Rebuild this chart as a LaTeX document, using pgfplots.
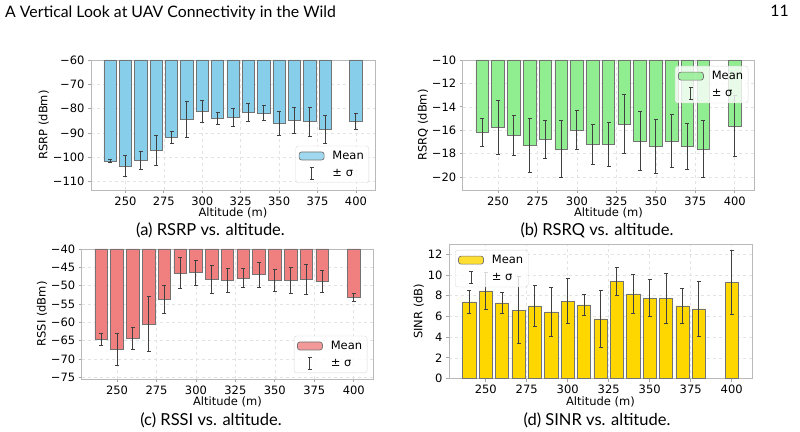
\documentclass[border=0pt]{standalone}
\usepackage{pgfplots}
\pgfplotsset{compat=1.18}
\usepackage{fontspec}
\setmainfont{Lato}
\newfontfamily\dejavu{DejaVu Sans}

\definecolor{skyblue}{HTML}{87CEEB}
\definecolor{lightgreen}{HTML}{90EE90}
\definecolor{lightcoral}{HTML}{F08080}
\definecolor{gold}{HTML}{FFD700}

% per-altitude statistics: mean and standard deviation
\pgfplotstableread{
x    y       e
240  -101.5  0.5
250  -103.7  4.3
260  -101.2  3.6
270  -97.1   6.3
280  -91.8   2.4
290  -84.4   7.3
300  -81.1   4.5
310  -84.0   2.3
320  -83.6   3.7
330  -81.6   3.8
340  -81.9   3.1
350  -86.0   5.0
360  -84.8   5.2
370  -85.3   6.0
380  -88.4   5.8
400  -85.3   3.3
}\rsrp
\pgfplotstableread{
x    y       e
240  -16.16  1.20
250  -15.74  2.30
260  -16.42  1.72
270  -17.30  2.33
280  -16.76  1.63
290  -17.61  2.45
300  -15.99  1.69
310  -17.19  1.70
320  -17.22  1.89
330  -15.48  2.50
340  -16.93  2.50
350  -17.36  2.30
360  -16.93  2.28
370  -17.36  1.95
380  -17.61  2.45
400  -15.63  2.57
}\rsrq
\pgfplotstableread{
x    y      e
240  -64.6  1.7
250  -67.4  4.3
260  -64.4  3.1
270  -60.5  7.5
280  -53.8  3.9
290  -46.6  4.2
300  -46.5  3.4
310  -48.3  3.7
320  -48.5  3.3
330  -48.0  2.6
340  -47.0  3.4
350  -48.5  3.0
360  -48.5  3.6
370  -48.3  4.1
380  -48.8  3.0
400  -53.2  1.0
}\rssi
\pgfplotstableread{
x    y     e
240  7.40  1.10
250  8.46  1.80
260  7.30  1.06
270  6.62  3.20
280  7.01  2.00
290  6.43  2.35
300  7.46  2.17
310  7.11  0.98
320  5.76  2.75
330  9.39  1.35
340  8.17  1.85
350  7.78  1.82
360  7.72  2.40
370  7.01  1.70
380  6.72  2.70
400  9.32  3.10
}\sinr

\newcommand{\chartfont}{\dejavu\fontsize{11.5}{13}\selectfont}
\newcommand{\pagefont}{\fontsize{15.8}{18}\selectfont}
\newcommand{\capfont}{\fontsize{16.5}{18}\selectfont}

\pgfplotsset{
  panel/.style={
    scale only axis,
    anchor=south west,
    xmin=227.6, xmax=412.4,
    xtick={250,275,300,325,350,375,400},
    xticklabels={250,275,300,325,350,375,400},
    ybar, bar width=8, bar shift=0pt,
    grid=major,
    major grid style={gray!22, dashed, line width=0.6pt},
    axis line style={gray!55, line width=0.8pt},
    tick style={gray!70, line width=0.7pt},
    tick align=outside, major tick length=3pt,
    tick pos=left,
    ticklabel style={font=\chartfont},
    label style={font=\chartfont},
    xlabel={Altitude (m)},
    xlabel style={yshift=4pt},
    ylabel style={yshift=-3pt},
    legend cell align=left,
    legend style={font=\chartfont, draw=gray!30, rounded corners=2.5pt,
      fill=white, fill opacity=0.8, text opacity=1, draw opacity=1,
      inner xsep=3pt, inner ysep=3pt, row sep=4pt,
      /tikz/every odd column/.append style={column sep=6pt}},
  },
  meanbar/.style={draw=black!55, line width=0.7pt, fill=#1,
    /pgfplots/error bars/y dir=both,
    /pgfplots/error bars/y explicit,
    /pgfplots/error bars/error bar style={black!75, line width=0.9pt},
    /pgfplots/error bars/error mark options={rotate=90, mark size=2pt, black!75, line width=0.9pt}},
  meanentry/.style={legend image code/.code={
    \draw[fill=#1, draw=black!55, line width=0.7pt] (0pt,-4pt) rectangle (25pt,4pt);}},
  sigmaentry/.style={legend image code/.code={
    \path[draw=none, fill=none] (0pt,-4pt) rectangle (25pt,4pt);
    \draw[black!75, line width=0.9pt] (12.5pt,-6pt) -- (12.5pt,6pt)
      (10.5pt,-6pt) -- (14.5pt,-6pt) (10.5pt,6pt) -- (14.5pt,6pt);}},
}

\begin{document}
\begin{tikzpicture}
\path[use as bounding box] (0pt,0pt) rectangle (800pt,431pt);

% page header
\node[anchor=base west, inner sep=0pt, font=\pagefont] at (5pt,413.5pt)
  {A Vertical Look at UAV Connectivity in the Wild};
\node[anchor=base east, inner sep=0pt, font=\pagefont] at (789pt,414pt) {11};

% (a) RSRP
\begin{axis}[panel, at={(91pt,241pt)}, width=284pt, height=130pt,
  ymin=-113.4, ymax=-60,
  ytick={-110,-100,-90,-80,-70,-60},
  yticklabels={−110,−100,−90,−80,−70,−60},
  ylabel={RSRP (dBm)},
  legend style={at={(1,0)}, anchor=south east, xshift=-6pt, yshift=7pt}]
\addplot[forget plot, meanbar=skyblue] table[x=x, y=y, y error=e] {\rsrp};
\addlegendimage{meanentry=skyblue}
\addlegendentry{Mean}
\addlegendimage{sigmaentry}
\addlegendentry{± σ}
\end{axis}

% (b) RSRQ
\begin{axis}[panel, at={(462.7pt,241pt)}, width=291.6pt, height=130pt,
  ymin=-21.1, ymax=-10,
  ytick={-20,-18,-16,-14,-12,-10},
  yticklabels={−20,−18,−16,−14,−12,−10},
  ylabel={RSRQ (dBm)},
  legend style={at={(1,1)}, anchor=north east, xshift=-6pt, yshift=-6pt}]
\addplot[forget plot, meanbar=lightgreen] table[x=x, y=y, y error=e] {\rsrq};
\addlegendimage{meanentry=lightgreen}
\addlegendentry{Mean}
\addlegendimage{sigmaentry}
\addlegendentry{± σ}
\end{axis}

% (c) RSSI
\begin{axis}[panel, at={(81.7pt,52pt)}, width=291.6pt, height=130pt,
  ymin=-75.45, ymax=-40,
  ytick={-75,-70,-65,-60,-55,-50,-45,-40},
  yticklabels={−75,−70,−65,−60,−55,−50,−45,−40},
  ylabel={RSSI (dBm)},
  legend style={at={(1,0)}, anchor=south east, xshift=-6pt, yshift=6pt}]
\addplot[forget plot, meanbar=lightcoral] table[x=x, y=y, y error=e] {\rssi};
\addlegendimage{meanentry=lightcoral}
\addlegendentry{Mean}
\addlegendimage{sigmaentry}
\addlegendentry{± σ}
\end{axis}

% (d) SINR
\begin{axis}[panel, at={(449pt,52.5pt)}, width=303pt, height=134.5pt,
  ymin=0, ymax=13.0,
  ytick={0,2,4,6,8,10,12},
  yticklabels={0,2,4,6,8,10,12},
  ylabel={SINR (dB)},
  legend style={at={(0,1)}, anchor=north west, xshift=6pt, yshift=-6pt}]
\addplot[forget plot, meanbar=gold] table[x=x, y=y, y error=e] {\sinr};
\addlegendimage{meanentry=gold}
\addlegendentry{Mean}
\addlegendimage{sigmaentry}
\addlegendentry{± σ}
\end{axis}

% sub-figure captions
\node[anchor=base, inner sep=0pt, font=\capfont] at (210.5pt,195pt) {(a) RSRP vs. altitude.};
\node[anchor=base, inner sep=0pt, font=\capfont] at (597pt,195pt) {(b) RSRQ vs. altitude.};
\node[anchor=base, inner sep=0pt, font=\capfont] at (211pt,6pt) {(c) RSSI vs. altitude.};
\node[anchor=base, inner sep=0pt, font=\capfont] at (597pt,6pt) {(d) SINR vs. altitude.};
\end{tikzpicture}
\end{document}
